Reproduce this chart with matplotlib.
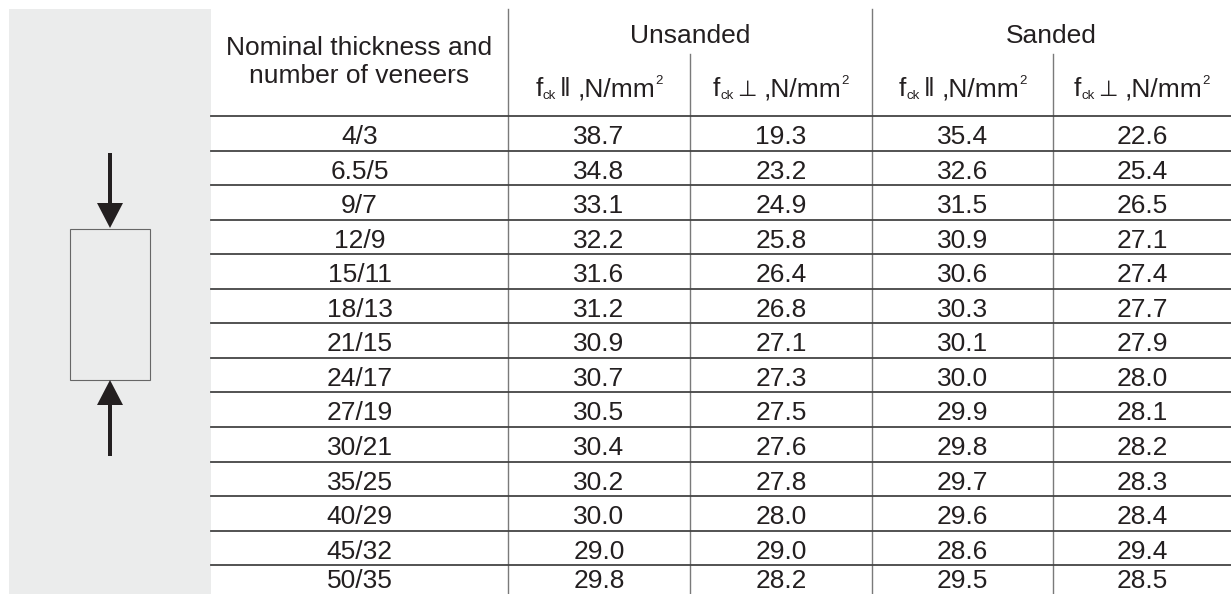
import numpy as np
import matplotlib
matplotlib.use("Agg")
import matplotlib.pyplot as plt
from matplotlib.patches import Rectangle, FancyArrow

plt.rcParams['font.family'] = ['Liberation Sans', 'DejaVu Sans']

# table data
thickness = ["4/3", "6.5/5", "9/7", "12/9", "15/11", "18/13", "21/15",
             "24/17", "27/19", "30/21", "35/25", "40/29", "45/32", "50/35"]
unsanded_par = [38.7, 34.8, 33.1, 32.2, 31.6, 31.2, 30.9, 30.7, 30.5, 30.4, 30.2, 30.0, 29.0, 29.8]
unsanded_perp = [19.3, 23.2, 24.9, 25.8, 26.4, 26.8, 27.1, 27.3, 27.5, 27.6, 27.8, 28.0, 29.0, 28.2]
sanded_par = [35.4, 32.6, 31.5, 30.9, 30.6, 30.3, 30.1, 30.0, 29.9, 29.8, 29.7, 29.6, 28.6, 29.5]
sanded_perp = [22.6, 25.4, 26.5, 27.1, 27.4, 27.7, 27.9, 28.0, 28.1, 28.2, 28.3, 28.4, 29.4, 28.5]

groups = ["Unsanded", "Sanded"]
symbols = ["\u2016", "\u22a5"]   # parallel / perpendicular
header_lines = ["Nominal thickness and", "number of veneers"]

W, H = 1231, 594
fig = plt.figure(figsize=(W/100, H/100), dpi=100)
ax = fig.add_axes([0, 0, 1, 1])
ax.set_xlim(0, W)
ax.set_ylim(H, 0)
ax.axis('off')
renderer = fig.canvas.get_renderer()

txt = '#231f20'
fs = 19


def rich(xc, yb, parts):
    # parts: (text, size scale, baseline shift px, gap before px)
    placed = []
    x = 0
    for s, scale, dy, gap in parts:
        x += gap
        t = ax.text(0, yb + dy, s, fontsize=fs*scale, va='baseline', ha='left', color=txt)
        w = t.get_window_extent(renderer).width
        placed.append((t, x))
        x += w
    for t, off in placed:
        t.set_x(xc - x/2 + off)


# left panel with compression sketch
ax.add_patch(Rectangle((9, 9), 202, H, facecolor='#ebecec', edgecolor='none'))
ax.add_patch(Rectangle((70, 229), 80, 151, facecolor='none', edgecolor='#666666', lw=0.8))
ax.add_patch(FancyArrow(110, 153, 0, 75, width=4, head_width=26, head_length=25,
                        length_includes_head=True, color=txt, lw=0))
ax.add_patch(FancyArrow(110, 456, 0, -76, width=4, head_width=26, head_length=25,
                        length_includes_head=True, color=txt, lw=0))

# table layout
col_edges = [211, 508, 690, 872, 1053, 1231]
centers = [(col_edges[i] + col_edges[i+1]) / 2 for i in range(5)]
header_bottom = 116
row_h = 34.55

# header
ax.text(centers[0], 55, header_lines[0], ha='center', va='baseline', fontsize=fs, color=txt)
ax.text(centers[0], 83, header_lines[1], ha='center', va='baseline', fontsize=fs, color=txt)
for g, name in enumerate(groups):
    gx = (col_edges[1 + 2*g] + col_edges[3 + 2*g]) / 2
    ax.text(gx, 43, name, ha='center', va='baseline', fontsize=fs, color=txt)
    for s in range(2):
        rich(centers[1 + 2*g + s], 96,
             [("f", 1, 0, 0), ("ck", 0.5, 3, 0), (symbols[s], 1.0 if s == 0 else 0.85, 0, 4),
              (",N/mm", 1, 0, 7), ("2", 0.5, -12, 0)])

# vertical rules
for i, x in enumerate(col_edges[1:5]):
    top = 9 if i % 2 == 0 else 54
    ax.plot([x, x], [top, H], color='#7a7a7a', lw=1.0)

# horizontal rules and rows
cols = [thickness, unsanded_par, unsanded_perp, sanded_par, sanded_perp]
for r in range(len(thickness)):
    y0 = header_bottom + r * row_h
    ax.plot([col_edges[0], W], [y0, y0], color='#444444', lw=1.3)
    for c in range(5):
        val = cols[c][r]
        s = val if isinstance(val, str) else f"{val:.1f}"
        ax.text(centers[c], min(y0 + 28, 588), s, ha='center', va='baseline', fontsize=fs, color=txt)

fig.savefig("out.png", dpi=100, facecolor='white')
